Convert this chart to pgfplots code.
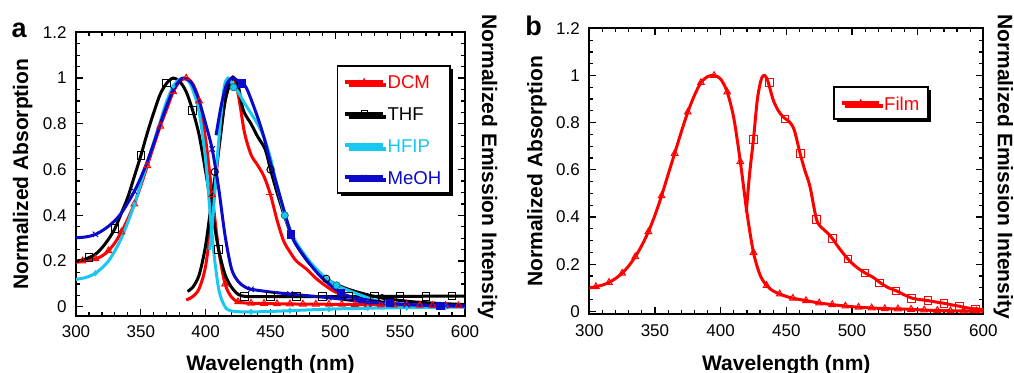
\documentclass[border=0pt]{standalone}
\usepackage{fontspec}
\setmainfont{Liberation Sans}
\usepackage{pgfplots}
\pgfplotsset{compat=1.18}
\usetikzlibrary{shadows}
\definecolor{redc}{RGB}{255,0,0}
\definecolor{cyanc}{RGB}{25,200,240}
\definecolor{bluec}{RGB}{10,10,200}
\pgfplotsset{
 myaxis/.style={
  scale only axis,
  xmin=300, xmax=600, ymax=1.2,
  xtick={300,350,400,450,500,550,600},
  minor x tick num=4,
  ytick={0,0.2,0.4,0.6,0.8,1,1.2},
  minor y tick num=3,
  tick align=inside,
  major tick length=3.5pt, minor tick length=2pt,
  tick style={black, line width=0.6pt},
  axis line style={line width=0.9pt},
  ticklabel style={font=\fontsize{8.5}{10}\selectfont},
  /pgf/number format/assume math mode=true,
  xticklabel style={yshift=-1.5pt},
  yticklabel style={xshift=-1.2pt},
  legend cell align=left,
  legend image code/.code={\draw[#1, mark=none] (0pt,0pt) -- (18.7pt,0pt); \draw[#1, line width=0.4pt, solid] plot coordinates {(9.35pt,0pt)};},
  legend style={draw=black, line width=0.8pt, fill=white,
    drop shadow={shadow xshift=1.6pt, shadow yshift=-1.6pt, fill=black, opacity=1},
    font=\fontsize{9.3}{11}\selectfont, row sep=7.5pt, inner xsep=3pt, inner ysep=3.8pt,
    nodes={inner ysep=0.6pt, inner xsep=1.4pt, text height=0.72em, text depth=0pt}},
 },
 curve/.style={line width=1.5pt, smooth, no marks, forget plot},
 mk/.style={only marks, forget plot, mark size=1.7pt, mark options={line width=0.5pt, solid, fill=none}},
}
\newcommand{\lblfont}{\bfseries\fontsize{10.5}{12}\selectfont}
\begin{document}
\begin{tikzpicture}
\useasboundingbox (0,0) rectangle (507pt,186pt);
% ---------------- panel a ----------------
\begin{axis}[myaxis, name=A, at={(38pt,28pt)}, anchor=south west,
  width=194.5pt, height=141.85pt, ymin=-0.04,
  legend style={at={(0.670,0.885)}, anchor=north west}]
% DCM absorption
\addplot[curve, redc] coordinates {(300,0.195) (305,0.2) (310,0.205) (315,0.21) (320,0.222) (325,0.245) (330,0.28) (335,0.327) (340,0.385) (345,0.45) (350,0.53) (355,0.617) (360,0.705) (365,0.79) (370,0.865) (375,0.94) (380,0.985) (385,1.0) (390,0.975) (395,0.9) (400,0.73) (405,0.49) (410,0.25) (415,0.1) (420,0.042) (425,0.022) (430,0.017) (440,0.015) (460,0.013) (500,0.011) (550,0.008) (600,0.005)};
\addplot[mk, redc, mark=triangle, mark size=1.9pt] coordinates {(305,0.2) (315,0.21) (325,0.245) (335,0.327) (345,0.45) (355,0.617) (365,0.79) (375,0.94) (385,1.0) (395,0.9) (405,0.49) (415,0.1) (425,0.022) (435,0.016) (445,0.015) (455,0.014) (465,0.013) (475,0.012) (485,0.012) (495,0.011) (505,0.011) (515,0.01) (525,0.01) (535,0.009) (545,0.008) (555,0.008) (565,0.007) (575,0.006) (585,0.006) (595,0.005)};
% DCM emission
\addplot[curve, redc] coordinates {(385,0.03) (390,0.045) (395,0.08) (400,0.18) (405,0.4) (410,0.68) (415,0.9) (420,1.0) (423,0.98) (426,0.9) (430,0.76) (435,0.665) (440,0.62) (445,0.57) (450,0.49) (455,0.38) (460,0.29) (465,0.24) (470,0.2) (478,0.164) (485,0.125) (493,0.09) (500,0.065) (510,0.045) (520,0.03) (535,0.012) (550,0.006) (575,0.003) (600,0.0)};
\addplot[mk, redc, mark=+, mark size=2pt] coordinates {(450,0.49)};
% THF absorption
\addplot[curve, black] coordinates {(300,0.2) (305,0.205) (310,0.215) (315,0.23) (320,0.258) (325,0.295) (330,0.342) (335,0.41) (340,0.48) (345,0.57) (350,0.661) (355,0.76) (360,0.85) (365,0.93) (370,0.978) (375,1.0) (380,0.985) (385,0.94) (390,0.858) (395,0.75) (400,0.59) (405,0.42) (410,0.25) (415,0.14) (420,0.085) (425,0.055) (430,0.046) (440,0.045) (500,0.045) (550,0.046) (600,0.047)};
\addplot[mk, black, mark=square, mark size=1.9pt] coordinates {(310,0.215) (330,0.342) (350,0.661) (370,0.978) (390,0.858) (410,0.25) (430,0.046) (450,0.045) (470,0.045) (490,0.045) (510,0.045) (530,0.045) (550,0.046) (570,0.046) (590,0.047)};
% THF emission
\addplot[curve, black] coordinates {(386,0.068) (390,0.085) (395,0.14) (400,0.27) (405,0.48) (408,0.6) (411,0.73) (415,0.9) (420,0.995) (422,1.0) (425,0.97) (429,0.86) (435,0.8) (440,0.745) (446,0.687) (450,0.6) (455,0.5) (460,0.41) (465,0.33) (470,0.27) (480,0.19) (493,0.123) (504,0.09) (515,0.068) (529,0.047) (540,0.035) (560,0.022) (580,0.015) (600,0.01)};
\addplot[mk, black, mark=o, mark size=1.8pt] coordinates {(407,0.59) (450,0.6) (493,0.123) (536,0.038)};
% HFIP absorption
\addplot[curve, cyanc] coordinates {(300,0.12) (305,0.125) (310,0.133) (315,0.147) (320,0.17) (325,0.2) (330,0.245) (335,0.3) (340,0.37) (345,0.448) (350,0.54) (355,0.63) (360,0.72) (365,0.81) (370,0.9) (375,0.963) (380,0.995) (383,1.0) (387,0.985) (390,0.95) (395,0.85) (400,0.64) (405,0.307) (410,0.08) (415,0.0) (420,-0.018) (430,-0.022) (450,-0.02) (500,-0.009) (550,-0.004) (600,0.0)};
\addplot[mk, cyanc, mark=diamond*, mark size=1.3pt, mark options={fill=cyanc}] coordinates {(315,0.147) (345,0.448) (375,0.963) (405,0.307) (435,-0.022) (465,-0.017) (495,-0.01) (525,-0.005) (555,-0.003) (585,-0.001)};
% HFIP emission
\addplot[curve, cyanc] coordinates {(403,0.25) (405,0.35) (410,0.72) (414,0.95) (417,1.0) (420,0.98) (422,0.96) (425,0.94) (430,0.89) (440,0.8) (445,0.74) (450,0.65) (455,0.53) (461,0.4) (465,0.34) (470,0.28) (480,0.2) (490,0.14) (501,0.094) (510,0.072) (520,0.05) (530,0.03) (541,0.015) (560,0.008) (581,0.003) (600,0.0)};
\addplot[mk, cyanc, mark=*, mark size=1.8pt, mark options={fill=cyanc, draw=cyanc!60!black}] coordinates {(421.5,0.96) (461,0.4) (501,0.094) (541,0.015) (581,0.003)};
% MeOH absorption
\addplot[curve, bluec] coordinates {(300,0.302) (305,0.304) (310,0.308) (315,0.317) (320,0.332) (325,0.352) (330,0.377) (335,0.41) (340,0.455) (345,0.505) (350,0.565) (355,0.635) (360,0.715) (365,0.8) (370,0.88) (375,0.949) (380,0.99) (383,1.0) (387,0.99) (390,0.97) (395,0.9) (400,0.8) (405,0.69) (410,0.52) (415,0.31) (420,0.165) (425,0.112) (430,0.088) (435,0.077) (450,0.065) (465,0.056) (480,0.048) (495,0.04) (510,0.03) (525,0.02) (540,0.015) (555,0.01) (570,0.007) (585,0.005) (600,0.004)};
\addplot[mk, bluec, mark=x, mark size=1.9pt] coordinates {(315,0.317) (345,0.505) (375,0.949) (405,0.69) (435,0.077) (465,0.056) (495,0.04) (525,0.02) (555,0.01) (585,0.005)};
% MeOH emission
\addplot[curve, bluec] coordinates {(408,0.75) (412,0.88) (416,0.97) (420,1.0) (423,0.995) (428,0.977) (432,0.95) (440,0.83) (445,0.74) (450,0.63) (455,0.53) (460,0.43) (466,0.317) (470,0.27) (480,0.19) (490,0.125) (504,0.062) (515,0.04) (525,0.03) (542,0.016) (560,0.009) (581,0.005) (600,0.003)};
\addplot[mk, bluec, mark=square*, mark size=1.8pt, mark options={fill=bluec}] coordinates {(428,0.977) (466,0.317) (504,0.062) (542,0.016) (581,0.005)};
% legend
\addlegendimage{redc, line width=2pt, mark=triangle, mark options={fill=none}, mark size=1.6pt}
\addlegendentry{\textcolor{redc}{DCM}}
\addlegendimage{black, line width=2pt, mark=square, mark options={fill=none}, mark size=1.4pt}
\addlegendentry{\textcolor{black}{THF}}
\addlegendimage{cyanc, line width=2pt, mark=diamond*, mark options={fill=cyanc}, mark size=1.2pt}
\addlegendentry{\textcolor{cyanc}{HFIP}}
\addlegendimage{bluec, line width=2pt, mark=x, mark size=1.6pt}
\addlegendentry{\textcolor{bluec}{MeOH}}
\end{axis}
\node[rotate=90, anchor=base, font=\lblfont, inner sep=0pt] at ([xshift=-24pt]A.west) {Normalized Absorption};
\node[rotate=-90, anchor=base, font=\lblfont, inner sep=0pt] at ([xshift=8.5pt, yshift=3.8pt]A.east) {Normalized Emission Intensity};
\node[anchor=base, font=\lblfont, inner sep=0pt] at ([yshift=-27pt]A.south) {Wavelength (nm)};
\node[anchor=base west, font=\bfseries\fontsize{13.5}{15}\selectfont, inner sep=0pt] at (5.6pt,167.5pt) {a};
% ---------------- panel b ----------------
\begin{axis}[myaxis, name=B, at={(294.65pt,28.85pt)}, anchor=south west,
  width=197pt, height=143pt, ymin=-0.012,
  legend style={at={(0.619,0.798)}, anchor=north west}]
\addplot[curve, redc] coordinates {(300,0.1) (305,0.105) (310,0.112) (315,0.123) (320,0.14) (325,0.162) (330,0.193) (335,0.232) (340,0.28) (345,0.338) (350,0.408) (355,0.49) (360,0.58) (365,0.67) (370,0.76) (375,0.845) (380,0.915) (385,0.97) (390,0.995) (395,1.0) (400,0.985) (405,0.93) (410,0.82) (415,0.635) (420,0.42) (425,0.25) (430,0.155) (435,0.11) (440,0.087) (445,0.074) (450,0.064) (455,0.056) (465,0.046) (475,0.036) (485,0.029) (495,0.023) (505,0.018) (515,0.015) (525,0.012) (535,0.011) (545,0.009) (555,0.006) (565,0.004) (575,0.003) (585,0.002) (600,0.002)};
\addplot[mk, redc, mark=triangle, mark size=1.9pt] coordinates {(305,0.105) (315,0.123) (325,0.162) (335,0.232) (345,0.338) (355,0.49) (365,0.67) (375,0.845) (385,0.97) (395,1.0) (405,0.93) (415,0.635) (425,0.25) (435,0.11) (445,0.074) (455,0.056) (465,0.046) (475,0.036) (485,0.029) (495,0.023) (505,0.018) (515,0.015) (525,0.012) (535,0.011) (545,0.009) (555,0.006) (565,0.004) (575,0.003) (585,0.002) (595,0.002)};
\addplot[curve, redc] coordinates {(419.5,0.42) (422,0.58) (425,0.73) (428,0.9) (431,0.985) (433.5,1.0) (436,0.975) (440,0.897) (444,0.85) (448,0.822) (452,0.806) (456,0.77) (460.4,0.672) (464,0.6) (468,0.53) (473,0.39) (477,0.355) (481,0.335) (485,0.31) (490,0.27) (497,0.222) (503,0.19) (510,0.163) (516,0.145) (522,0.12) (528,0.1) (534,0.087) (540,0.07) (546,0.056) (552,0.05) (558,0.046) (564,0.04) (570,0.035) (576,0.028) (582,0.022) (588,0.015) (594,0.011) (600,0.008)};
\addplot[mk, redc, mark=square, mark size=1.9pt] coordinates {(425,0.73) (437,0.97) (449,0.816) (461,0.67) (473,0.39) (485,0.31) (497,0.222) (510,0.163) (521,0.121) (533.5,0.087) (545.5,0.056) (558,0.046) (570,0.035) (582,0.022) (594,0.011)};
\addlegendimage{redc, line width=2pt, mark=triangle, mark options={fill=none}, mark size=1.6pt}
\addlegendentry{\textcolor{redc}{Film}\hspace{3pt}}
\end{axis}
\node[rotate=90, anchor=base, font=\lblfont, inner sep=0pt] at ([xshift=-23.5pt]B.west) {Normalized Absorption};
\node[rotate=-90, anchor=base, font=\lblfont, inner sep=0pt] at ([xshift=7.3pt, yshift=2.4pt]B.east) {Normalized Emission Intensity};
\node[anchor=base, font=\lblfont, inner sep=0pt] at ([yshift=-27.85pt]B.south) {Wavelength (nm)};
\node[anchor=base west, font=\bfseries\fontsize{13.5}{15}\selectfont, inner sep=0pt] at (262.5pt,168.5pt) {b};
\end{tikzpicture}
\end{document}
